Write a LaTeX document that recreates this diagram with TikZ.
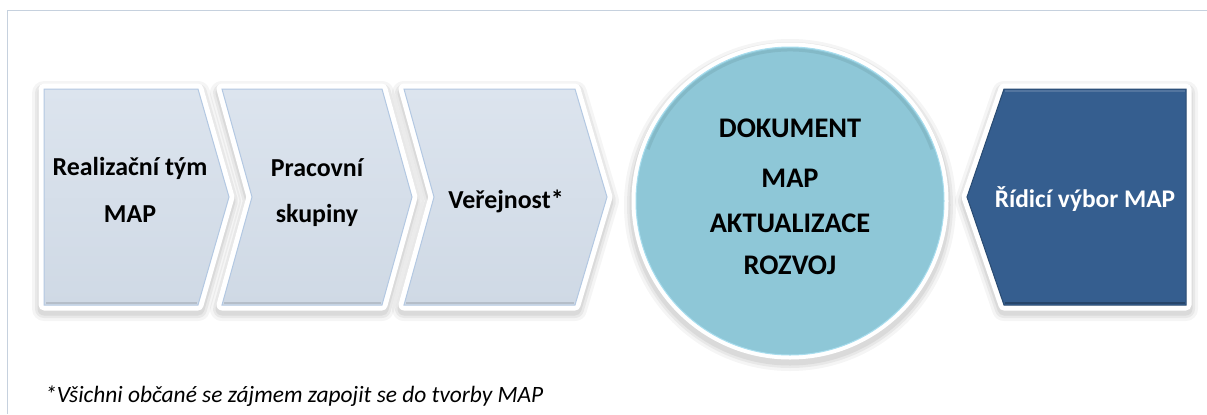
\documentclass[tikz,border=0pt]{standalone}
\usepackage{fontspec}
\setmainfont{Carlito}
\definecolor{chevtop}{HTML}{DCE4EE}
\definecolor{chevbot}{HTML}{CFD9E5}
\definecolor{chevedge}{HTML}{B3C8E2}
\definecolor{circfill}{HTML}{8EC7D7}
\definecolor{circedge}{HTML}{A8DDEE}
\definecolor{darkfill}{HTML}{355E8F}
\definecolor{frameline}{HTML}{C6D1DE}
\newcommand\pathA{(44,89) -- (198,89) -- (229,197) -- (198,305) -- (44,305) -- cycle}
\newcommand\pathB{(222,89) -- (382,89) -- (412,197) -- (382,305) -- (222,305) -- (252,197) -- cycle}
\newcommand\pathC{(404,89) -- (575,89) -- (607,197) -- (575,305) -- (404,305) -- (434,197) -- cycle}
\newcommand\pathD{(1004,89) -- (1186,89) -- (1186,305) -- (1004,305) -- (967,197) -- cycle}
\newcommand\pathE{(790,201) circle[radius=154]}
\begin{document}
\begin{tikzpicture}[x=1bp,y=-1bp,
  shadowA/.style={draw=black, opacity=0.04, line width=24bp, line join=round},
  shadowB/.style={draw=black, opacity=0.05, line width=18bp, line join=round},
  shadowC/.style={draw=black, opacity=0.06, line width=13bp, line join=round},
  whiteedge/.style={draw=white, fill=white, line width=11bp, line join=round},
  chevfill/.style={top color=chevtop, bottom color=chevbot, draw=chevedge, line width=1bp, line join=miter},
  circfillstyle/.style={fill=circfill, draw=circedge, line width=1bp},
  darkfillstyle/.style={fill=darkfill, draw=darkfill!80!black, line width=1bp, line join=miter},
  chevtext/.style={font=\fontsize{26}{30}\selectfont\bfseries, text=black, anchor=base, inner sep=0pt},
  circtext/.style={font=\fontsize{28.5}{32}\selectfont\bfseries, text=black, anchor=base, inner sep=0pt},
  darktext/.style={font=\fontsize{25.5}{30}\selectfont\bfseries, text=white, anchor=base, inner sep=0pt},
  notetext/.style={font=\fontsize{23.5}{28}\selectfont\itshape, text=black, anchor=base west, inner sep=0pt}
 ]
\useasboundingbox (0,0) rectangle (1207,414);
\fill[white] (0,0) rectangle (1207,414);
% frame
\draw[frameline, line width=1bp] (7,414) -- (7,10) -- (1207,10);
% shadows
\begin{scope}[shift={(0,4)}]
  \foreach \s in {shadowA,shadowB,shadowC}{
    \path[\s] \pathA;
    \path[\s] \pathB;
    \path[\s] \pathC;
    \path[\s] \pathD;
    \path[\s] \pathE;
  }
\end{scope}
% white outlines
\path[whiteedge] \pathA;
\path[whiteedge] \pathB;
\path[whiteedge] \pathC;
\path[whiteedge] \pathD;
\path[whiteedge, line width=9bp] \pathE;
% fills
\path[chevfill] \pathA;
\path[chevfill] \pathB;
\path[chevfill] \pathC;
\path[darkfillstyle] \pathD;
\path[circfillstyle] \pathE;
% subtle bevels
\draw[black, opacity=0.12, line width=2bp] (46,303) -- (197,303);
\draw[black, opacity=0.12, line width=2bp] (224,303) -- (381,303);
\draw[black, opacity=0.12, line width=2bp] (406,303) -- (574,303);
\draw[black, opacity=0.25, line width=2bp] (1005,303) -- (1185,303);
\draw[white, opacity=0.15, line width=2bp] (1005,91) -- (1185,91);
\draw[circfill!80!black, opacity=0.35, line width=3bp] (790,201) ++(200:151) arc[start angle=200, end angle=340, radius=151];
% texts
\node[chevtext] (t1a) at (130,175) {Realizační tým};
\node[chevtext] (t1b) at (130,222) {MAP};
\node[chevtext] (t2a) at (317,176) {Pracovní};
\node[chevtext] (t2b) at (317,222) {skupiny};
\node[chevtext] (t3) at (506,208) {Veřejnost*};
\node[circtext] (c1) at (790,137) {DOKUMENT};
\node[circtext] (c2) at (790,187) {MAP};
\node[circtext] (c3) at (790,232) {AKTUALIZACE};
\node[circtext] (c4) at (790,274) {ROZVOJ};
\node[darktext] (r1) at (1085,207) {Řídicí výbor MAP};
\node[notetext] (note) at (45,402) {*Všichni občané se zájmem zapojit se do tvorby MAP};
\end{tikzpicture}
\end{document}
